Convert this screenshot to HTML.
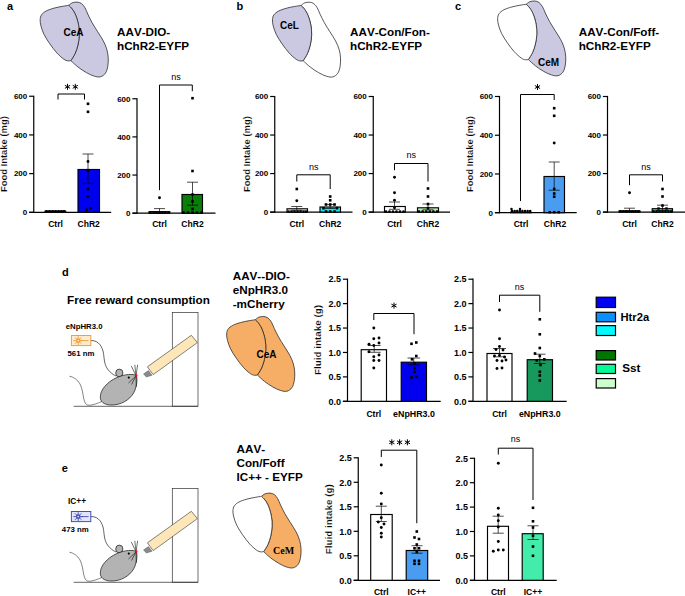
<!DOCTYPE html><html><head><meta charset="utf-8"><title>figure</title>
<style>html,body{margin:0;padding:0;background:#fff;}svg{display:block;font-family:"Liberation Sans",sans-serif;font-kerning:none;}text{font-kerning:none;}</style></head><body>
<svg width="685" height="596" viewBox="0 0 685 596">
<rect width="685" height="596" fill="#fff"/>
<text x="7" y="9.5" font-size="11" font-weight="bold" text-anchor="start" fill="#000" >a</text>
<text x="236.5" y="9.5" font-size="11" font-weight="bold" text-anchor="start" fill="#000" >b</text>
<text x="455" y="9.5" font-size="11" font-weight="bold" text-anchor="start" fill="#000" >c</text>
<text x="62" y="275.5" font-size="11" font-weight="bold" text-anchor="start" fill="#000" >d</text>
<text x="61.8" y="472" font-size="11" font-weight="bold" text-anchor="start" fill="#000" >e</text>
<g transform="translate(0 0)">
<path d="M68.76 5.36 C69.35 4.94 70.87 3.36 72.28 2.82 C73.69 2.28 75.69 1.99 77.22 2.11 C78.75 2.23 80.15 2.58 81.44 3.52 C82.73 4.46 83.91 5.99 84.97 7.75 C86.03 9.51 86.62 11.62 87.79 14.09 C88.97 16.56 90.38 19.61 92.02 22.55 C93.66 25.49 95.77 28.66 97.65 31.71 C99.53 34.76 101.76 37.93 103.29 40.87 C104.82 43.81 105.99 46.51 106.81 49.33 C107.63 52.15 108.06 54.97 108.22 57.79 C108.38 60.61 108.27 63.66 107.80 66.24 C107.33 68.82 106.62 71.53 105.40 73.29 C104.18 75.05 102.35 76.34 100.47 76.81 C98.59 77.28 96.48 76.81 94.13 76.11 C91.78 75.41 89.08 74.12 86.38 72.59 C83.68 71.06 80.50 68.95 77.92 66.95 C75.34 64.95 72.05 61.67 70.87 60.61 C71.58 59.44 73.92 56.15 75.10 53.56 C76.27 50.98 77.22 48.15 77.92 45.10 C78.62 42.05 79.21 38.53 79.33 35.24 C79.45 31.95 79.22 28.66 78.63 25.37 C78.04 22.08 76.87 18.20 75.81 15.50 C74.75 12.80 73.45 10.85 72.28 9.16 C71.11 7.47 69.35 5.99 68.76 5.36 Z" fill="#cbc8e2" stroke="#222" stroke-width="0.75" stroke-linejoin="round"/>
<path d="M68.76 5.36 C67.70 5.52 64.89 5.87 62.42 6.34 C59.95 6.81 56.66 7.39 53.96 8.17 C51.26 8.95 48.28 9.88 46.21 10.99 C44.14 12.10 42.57 13.34 41.56 14.80 C40.55 16.26 40.24 17.85 40.15 19.73 C40.05 21.61 40.33 23.60 40.99 26.07 C41.65 28.54 42.63 31.59 44.09 34.53 C45.55 37.47 47.61 40.64 49.73 43.69 C51.84 46.74 54.43 50.27 56.78 52.85 C59.13 55.44 61.95 57.86 63.83 59.20 C65.71 60.54 66.88 60.66 68.05 60.89 C69.22 61.12 70.40 60.66 70.87 60.61 C71.58 59.44 73.92 56.15 75.10 53.56 C76.27 50.98 77.22 48.15 77.92 45.10 C78.62 42.05 79.21 38.53 79.33 35.24 C79.45 31.95 79.22 28.66 78.63 25.37 C78.04 22.08 76.87 18.20 75.81 15.50 C74.75 12.80 73.45 10.85 72.28 9.16 C71.11 7.47 69.35 5.99 68.76 5.36 Z" fill="#cbc8e2" stroke="#222" stroke-width="0.75" stroke-linejoin="round"/>
</g>
<text x="63.5" y="36.3" font-size="10" font-weight="bold" text-anchor="start" fill="#000" >CeA</text>
<g transform="translate(232.3 0.1)">
<path d="M68.76 5.36 C69.35 4.94 70.87 3.36 72.28 2.82 C73.69 2.28 75.69 1.99 77.22 2.11 C78.75 2.23 80.15 2.58 81.44 3.52 C82.73 4.46 83.91 5.99 84.97 7.75 C86.03 9.51 86.62 11.62 87.79 14.09 C88.97 16.56 90.38 19.61 92.02 22.55 C93.66 25.49 95.77 28.66 97.65 31.71 C99.53 34.76 101.76 37.93 103.29 40.87 C104.82 43.81 105.99 46.51 106.81 49.33 C107.63 52.15 108.06 54.97 108.22 57.79 C108.38 60.61 108.27 63.66 107.80 66.24 C107.33 68.82 106.62 71.53 105.40 73.29 C104.18 75.05 102.35 76.34 100.47 76.81 C98.59 77.28 96.48 76.81 94.13 76.11 C91.78 75.41 89.08 74.12 86.38 72.59 C83.68 71.06 80.50 68.95 77.92 66.95 C75.34 64.95 72.05 61.67 70.87 60.61 C71.58 59.44 73.92 56.15 75.10 53.56 C76.27 50.98 77.22 48.15 77.92 45.10 C78.62 42.05 79.21 38.53 79.33 35.24 C79.45 31.95 79.22 28.66 78.63 25.37 C78.04 22.08 76.87 18.20 75.81 15.50 C74.75 12.80 73.45 10.85 72.28 9.16 C71.11 7.47 69.35 5.99 68.76 5.36 Z" fill="#fff" stroke="#222" stroke-width="0.75" stroke-linejoin="round"/>
<path d="M68.76 5.36 C67.70 5.52 64.89 5.87 62.42 6.34 C59.95 6.81 56.66 7.39 53.96 8.17 C51.26 8.95 48.28 9.88 46.21 10.99 C44.14 12.10 42.57 13.34 41.56 14.80 C40.55 16.26 40.24 17.85 40.15 19.73 C40.05 21.61 40.33 23.60 40.99 26.07 C41.65 28.54 42.63 31.59 44.09 34.53 C45.55 37.47 47.61 40.64 49.73 43.69 C51.84 46.74 54.43 50.27 56.78 52.85 C59.13 55.44 61.95 57.86 63.83 59.20 C65.71 60.54 66.88 60.66 68.05 60.89 C69.22 61.12 70.40 60.66 70.87 60.61 C71.58 59.44 73.92 56.15 75.10 53.56 C76.27 50.98 77.22 48.15 77.92 45.10 C78.62 42.05 79.21 38.53 79.33 35.24 C79.45 31.95 79.22 28.66 78.63 25.37 C78.04 22.08 76.87 18.20 75.81 15.50 C74.75 12.80 73.45 10.85 72.28 9.16 C71.11 7.47 69.35 5.99 68.76 5.36 Z" fill="#cbc8e2" stroke="#222" stroke-width="0.75" stroke-linejoin="round"/>
</g>
<text x="280" y="29.3" font-size="10" font-weight="bold" text-anchor="start" fill="#000" >CeL</text>
<g transform="translate(457.5 -1.1)">
<path d="M68.76 5.36 C69.35 4.94 70.87 3.36 72.28 2.82 C73.69 2.28 75.69 1.99 77.22 2.11 C78.75 2.23 80.15 2.58 81.44 3.52 C82.73 4.46 83.91 5.99 84.97 7.75 C86.03 9.51 86.62 11.62 87.79 14.09 C88.97 16.56 90.38 19.61 92.02 22.55 C93.66 25.49 95.77 28.66 97.65 31.71 C99.53 34.76 101.76 37.93 103.29 40.87 C104.82 43.81 105.99 46.51 106.81 49.33 C107.63 52.15 108.06 54.97 108.22 57.79 C108.38 60.61 108.27 63.66 107.80 66.24 C107.33 68.82 106.62 71.53 105.40 73.29 C104.18 75.05 102.35 76.34 100.47 76.81 C98.59 77.28 96.48 76.81 94.13 76.11 C91.78 75.41 89.08 74.12 86.38 72.59 C83.68 71.06 80.50 68.95 77.92 66.95 C75.34 64.95 72.05 61.67 70.87 60.61 C71.58 59.44 73.92 56.15 75.10 53.56 C76.27 50.98 77.22 48.15 77.92 45.10 C78.62 42.05 79.21 38.53 79.33 35.24 C79.45 31.95 79.22 28.66 78.63 25.37 C78.04 22.08 76.87 18.20 75.81 15.50 C74.75 12.80 73.45 10.85 72.28 9.16 C71.11 7.47 69.35 5.99 68.76 5.36 Z" fill="#cbc8e2" stroke="#222" stroke-width="0.75" stroke-linejoin="round"/>
<path d="M68.76 5.36 C67.70 5.52 64.89 5.87 62.42 6.34 C59.95 6.81 56.66 7.39 53.96 8.17 C51.26 8.95 48.28 9.88 46.21 10.99 C44.14 12.10 42.57 13.34 41.56 14.80 C40.55 16.26 40.24 17.85 40.15 19.73 C40.05 21.61 40.33 23.60 40.99 26.07 C41.65 28.54 42.63 31.59 44.09 34.53 C45.55 37.47 47.61 40.64 49.73 43.69 C51.84 46.74 54.43 50.27 56.78 52.85 C59.13 55.44 61.95 57.86 63.83 59.20 C65.71 60.54 66.88 60.66 68.05 60.89 C69.22 61.12 70.40 60.66 70.87 60.61 C71.58 59.44 73.92 56.15 75.10 53.56 C76.27 50.98 77.22 48.15 77.92 45.10 C78.62 42.05 79.21 38.53 79.33 35.24 C79.45 31.95 79.22 28.66 78.63 25.37 C78.04 22.08 76.87 18.20 75.81 15.50 C74.75 12.80 73.45 10.85 72.28 9.16 C71.11 7.47 69.35 5.99 68.76 5.36 Z" fill="#fff" stroke="#222" stroke-width="0.75" stroke-linejoin="round"/>
</g>
<text x="538" y="65.5" font-size="10" font-weight="bold" text-anchor="start" fill="#000" >CeM</text>
<g transform="translate(186.5 314.4)">
<path d="M68.76 5.36 C69.35 4.94 70.87 3.36 72.28 2.82 C73.69 2.28 75.69 1.99 77.22 2.11 C78.75 2.23 80.15 2.58 81.44 3.52 C82.73 4.46 83.91 5.99 84.97 7.75 C86.03 9.51 86.62 11.62 87.79 14.09 C88.97 16.56 90.38 19.61 92.02 22.55 C93.66 25.49 95.77 28.66 97.65 31.71 C99.53 34.76 101.76 37.93 103.29 40.87 C104.82 43.81 105.99 46.51 106.81 49.33 C107.63 52.15 108.06 54.97 108.22 57.79 C108.38 60.61 108.27 63.66 107.80 66.24 C107.33 68.82 106.62 71.53 105.40 73.29 C104.18 75.05 102.35 76.34 100.47 76.81 C98.59 77.28 96.48 76.81 94.13 76.11 C91.78 75.41 89.08 74.12 86.38 72.59 C83.68 71.06 80.50 68.95 77.92 66.95 C75.34 64.95 72.05 61.67 70.87 60.61 C71.58 59.44 73.92 56.15 75.10 53.56 C76.27 50.98 77.22 48.15 77.92 45.10 C78.62 42.05 79.21 38.53 79.33 35.24 C79.45 31.95 79.22 28.66 78.63 25.37 C78.04 22.08 76.87 18.20 75.81 15.50 C74.75 12.80 73.45 10.85 72.28 9.16 C71.11 7.47 69.35 5.99 68.76 5.36 Z" fill="#f6ae66" stroke="#222" stroke-width="0.75" stroke-linejoin="round"/>
<path d="M68.76 5.36 C67.70 5.52 64.89 5.87 62.42 6.34 C59.95 6.81 56.66 7.39 53.96 8.17 C51.26 8.95 48.28 9.88 46.21 10.99 C44.14 12.10 42.57 13.34 41.56 14.80 C40.55 16.26 40.24 17.85 40.15 19.73 C40.05 21.61 40.33 23.60 40.99 26.07 C41.65 28.54 42.63 31.59 44.09 34.53 C45.55 37.47 47.61 40.64 49.73 43.69 C51.84 46.74 54.43 50.27 56.78 52.85 C59.13 55.44 61.95 57.86 63.83 59.20 C65.71 60.54 66.88 60.66 68.05 60.89 C69.22 61.12 70.40 60.66 70.87 60.61 C71.58 59.44 73.92 56.15 75.10 53.56 C76.27 50.98 77.22 48.15 77.92 45.10 C78.62 42.05 79.21 38.53 79.33 35.24 C79.45 31.95 79.22 28.66 78.63 25.37 C78.04 22.08 76.87 18.20 75.81 15.50 C74.75 12.80 73.45 10.85 72.28 9.16 C71.11 7.47 69.35 5.99 68.76 5.36 Z" fill="#f6ae66" stroke="#222" stroke-width="0.75" stroke-linejoin="round"/>
</g>
<text x="256.5" y="358" font-size="10" font-weight="bold" text-anchor="start" fill="#000" >CeA</text>
<g transform="translate(192.8 491.0)">
<path d="M68.76 5.36 C69.35 4.94 70.87 3.36 72.28 2.82 C73.69 2.28 75.69 1.99 77.22 2.11 C78.75 2.23 80.15 2.58 81.44 3.52 C82.73 4.46 83.91 5.99 84.97 7.75 C86.03 9.51 86.62 11.62 87.79 14.09 C88.97 16.56 90.38 19.61 92.02 22.55 C93.66 25.49 95.77 28.66 97.65 31.71 C99.53 34.76 101.76 37.93 103.29 40.87 C104.82 43.81 105.99 46.51 106.81 49.33 C107.63 52.15 108.06 54.97 108.22 57.79 C108.38 60.61 108.27 63.66 107.80 66.24 C107.33 68.82 106.62 71.53 105.40 73.29 C104.18 75.05 102.35 76.34 100.47 76.81 C98.59 77.28 96.48 76.81 94.13 76.11 C91.78 75.41 89.08 74.12 86.38 72.59 C83.68 71.06 80.50 68.95 77.92 66.95 C75.34 64.95 72.05 61.67 70.87 60.61 C71.58 59.44 73.92 56.15 75.10 53.56 C76.27 50.98 77.22 48.15 77.92 45.10 C78.62 42.05 79.21 38.53 79.33 35.24 C79.45 31.95 79.22 28.66 78.63 25.37 C78.04 22.08 76.87 18.20 75.81 15.50 C74.75 12.80 73.45 10.85 72.28 9.16 C71.11 7.47 69.35 5.99 68.76 5.36 Z" fill="#f6ae66" stroke="#222" stroke-width="0.75" stroke-linejoin="round"/>
<path d="M68.76 5.36 C67.70 5.52 64.89 5.87 62.42 6.34 C59.95 6.81 56.66 7.39 53.96 8.17 C51.26 8.95 48.28 9.88 46.21 10.99 C44.14 12.10 42.57 13.34 41.56 14.80 C40.55 16.26 40.24 17.85 40.15 19.73 C40.05 21.61 40.33 23.60 40.99 26.07 C41.65 28.54 42.63 31.59 44.09 34.53 C45.55 37.47 47.61 40.64 49.73 43.69 C51.84 46.74 54.43 50.27 56.78 52.85 C59.13 55.44 61.95 57.86 63.83 59.20 C65.71 60.54 66.88 60.66 68.05 60.89 C69.22 61.12 70.40 60.66 70.87 60.61 C71.58 59.44 73.92 56.15 75.10 53.56 C76.27 50.98 77.22 48.15 77.92 45.10 C78.62 42.05 79.21 38.53 79.33 35.24 C79.45 31.95 79.22 28.66 78.63 25.37 C78.04 22.08 76.87 18.20 75.81 15.50 C74.75 12.80 73.45 10.85 72.28 9.16 C71.11 7.47 69.35 5.99 68.76 5.36 Z" fill="#fff" stroke="#222" stroke-width="0.75" stroke-linejoin="round"/>
</g>
<text x="273" y="554" font-size="10" font-weight="bold" text-anchor="start" fill="#000" font-family='"Liberation Serif", serif' >CeM</text>
<text x="117" y="36.3" font-size="11.7" font-weight="bold" text-anchor="start" fill="#000" >AAV-DIO-</text>
<text x="117" y="49.9" font-size="11.7" font-weight="bold" text-anchor="start" fill="#000" >hChR2-EYFP</text>
<text x="350" y="36.3" font-size="11.7" font-weight="bold" text-anchor="start" fill="#000" >AAV-Con/Fon-</text>
<text x="350" y="49.9" font-size="11.7" font-weight="bold" text-anchor="start" fill="#000" >hChR2-EYFP</text>
<text x="578.7" y="36.3" font-size="11.7" font-weight="bold" text-anchor="start" fill="#000" >AAV-Con/Foff-</text>
<text x="578.7" y="49.9" font-size="11.7" font-weight="bold" text-anchor="start" fill="#000" >hChR2-EYFP</text>
<text x="232.7" y="279.5" font-size="11.7" font-weight="bold" text-anchor="start" fill="#000" >AAV--DIO-</text>
<text x="232.7" y="293.5" font-size="11.7" font-weight="bold" text-anchor="start" fill="#000" >eNpHR3.0</text>
<text x="232.7" y="307.5" font-size="11.7" font-weight="bold" text-anchor="start" fill="#000" >-mCherry</text>
<text x="236.5" y="452.5" font-size="11.7" font-weight="bold" text-anchor="start" fill="#000" >AAV-</text>
<text x="236.5" y="466.5" font-size="11.7" font-weight="bold" text-anchor="start" fill="#000" >Con/Foff</text>
<text x="236.5" y="480.7" font-size="11.7" font-weight="bold" text-anchor="start" fill="#000" >IC++ - EYFP</text>
<text x="67" y="304.3" font-size="11.7" font-weight="bold" text-anchor="start" fill="#000" >Free reward consumption</text>
<line x1="33.75" y1="95.65000000000002" x2="33.75" y2="212.9" stroke="#000" stroke-width="1.2" stroke-linecap="butt"/>
<line x1="29.15" y1="212.3" x2="111.2" y2="212.3" stroke="#000" stroke-width="1.2" stroke-linecap="butt"/>
<line x1="29.15" y1="212.3" x2="33.75" y2="212.3" stroke="#000" stroke-width="1.2" stroke-linecap="butt"/>
<text x="27.25" y="215.18" font-size="8.0" font-weight="bold" text-anchor="end" fill="#000" >0</text>
<line x1="29.15" y1="173.61666666666667" x2="33.75" y2="173.61666666666667" stroke="#000" stroke-width="1.2" stroke-linecap="butt"/>
<text x="27.25" y="176.49666666666667" font-size="8.0" font-weight="bold" text-anchor="end" fill="#000" >200</text>
<line x1="29.15" y1="134.93333333333334" x2="33.75" y2="134.93333333333334" stroke="#000" stroke-width="1.2" stroke-linecap="butt"/>
<text x="27.25" y="137.81333333333333" font-size="8.0" font-weight="bold" text-anchor="end" fill="#000" >400</text>
<line x1="29.15" y1="96.25000000000001" x2="33.75" y2="96.25000000000001" stroke="#000" stroke-width="1.2" stroke-linecap="butt"/>
<text x="27.25" y="99.13000000000001" font-size="8.0" font-weight="bold" text-anchor="end" fill="#000" >600</text>
<rect x="45.00" y="211.30" width="20.70" height="1.00" fill="#fff" stroke="#000" stroke-width="1.15"/>
<rect x="78.00" y="169.50" width="21.50" height="42.80" fill="#0000ee" stroke="#000" stroke-width="1.15"/>
<line x1="88" y1="154" x2="88" y2="183.2" stroke="#000" stroke-width="0.7" stroke-linecap="butt"/>
<line x1="82.5" y1="154" x2="93.5" y2="154" stroke="#000" stroke-width="0.7" stroke-linecap="butt"/>
<line x1="82.5" y1="183.2" x2="93.5" y2="183.2" stroke="#000" stroke-width="0.7" stroke-linecap="butt"/>
<rect x="45.25" y="210.05" width="2.5" height="2.5" fill="#000"/>
<rect x="48.25" y="210.05" width="2.5" height="2.5" fill="#000"/>
<rect x="51.25" y="210.05" width="2.5" height="2.5" fill="#000"/>
<rect x="54.25" y="210.05" width="2.5" height="2.5" fill="#000"/>
<rect x="57.25" y="210.05" width="2.5" height="2.5" fill="#000"/>
<rect x="60.25" y="210.05" width="2.5" height="2.5" fill="#000"/>
<rect x="62.95" y="210.05" width="2.5" height="2.5" fill="#000"/>
<circle cx="88" cy="161.5" r="1.45" fill="#000"/>
<rect x="86.70" y="168.90" width="2.6" height="2.6" fill="#000"/>
<rect x="86.70" y="187.70" width="2.6" height="2.6" fill="#000"/>
<rect x="86.70" y="195.20" width="2.6" height="2.6" fill="#000"/>
<rect x="84.90" y="208.50" width="2.6" height="2.6" fill="#000"/>
<rect x="89.20" y="206.90" width="2.6" height="2.6" fill="#000"/>
<rect x="86.70" y="102.50" width="2.6" height="2.6" fill="#000"/>
<rect x="86.70" y="110.50" width="2.6" height="2.6" fill="#000"/>
<path d="M58 99.5 V94 H84.5 V99.5" fill="none" stroke="#000" stroke-width="1"/>
<line x1="67.50" y1="83.80" x2="67.50" y2="89.80" stroke="#000" stroke-width="1.0"/>
<line x1="64.90" y1="85.30" x2="70.10" y2="88.30" stroke="#000" stroke-width="1.0"/>
<line x1="70.10" y1="85.30" x2="64.90" y2="88.30" stroke="#000" stroke-width="1.0"/>
<line x1="75.30" y1="83.80" x2="75.30" y2="89.80" stroke="#000" stroke-width="1.0"/>
<line x1="72.70" y1="85.30" x2="77.90" y2="88.30" stroke="#000" stroke-width="1.0"/>
<line x1="77.90" y1="85.30" x2="72.70" y2="88.30" stroke="#000" stroke-width="1.0"/>
<text x="55.5" y="227" font-size="8.55" font-weight="bold" text-anchor="middle" fill="#000" >Ctrl</text>
<text x="88.7" y="227" font-size="8.55" font-weight="bold" text-anchor="middle" fill="#000" >ChR2</text>
<text transform="translate(7.2 154.1) rotate(-90)" font-size="9.45" font-weight="bold" text-anchor="middle" fill="#000" stroke="#fff" stroke-width="0.16">Food Intake (mg)</text>
<line x1="137" y1="98.14999999999999" x2="137" y2="213.79999999999998" stroke="#000" stroke-width="1.2" stroke-linecap="butt"/>
<line x1="132.4" y1="213.2" x2="215.5" y2="213.2" stroke="#000" stroke-width="1.2" stroke-linecap="butt"/>
<line x1="132.4" y1="213.2" x2="137" y2="213.2" stroke="#000" stroke-width="1.2" stroke-linecap="butt"/>
<text x="130.5" y="216.07999999999998" font-size="8.0" font-weight="bold" text-anchor="end" fill="#000" >0</text>
<line x1="132.4" y1="175.05" x2="137" y2="175.05" stroke="#000" stroke-width="1.2" stroke-linecap="butt"/>
<text x="130.5" y="177.93" font-size="8.0" font-weight="bold" text-anchor="end" fill="#000" >200</text>
<line x1="132.4" y1="136.9" x2="137" y2="136.9" stroke="#000" stroke-width="1.2" stroke-linecap="butt"/>
<text x="130.5" y="139.78" font-size="8.0" font-weight="bold" text-anchor="end" fill="#000" >400</text>
<line x1="132.4" y1="98.74999999999999" x2="137" y2="98.74999999999999" stroke="#000" stroke-width="1.2" stroke-linecap="butt"/>
<text x="130.5" y="101.62999999999998" font-size="8.0" font-weight="bold" text-anchor="end" fill="#000" >600</text>
<rect x="149.00" y="211.70" width="20.80" height="1.50" fill="#fff" stroke="#000" stroke-width="1.15"/>
<line x1="159.5" y1="208.6" x2="159.5" y2="213.0" stroke="#000" stroke-width="0.7" stroke-linecap="butt"/>
<line x1="154.0" y1="208.6" x2="165.0" y2="208.6" stroke="#000" stroke-width="0.7" stroke-linecap="butt"/>
<line x1="154.0" y1="213.0" x2="165.0" y2="213.0" stroke="#000" stroke-width="0.7" stroke-linecap="butt"/>
<rect x="182.00" y="194.50" width="20.50" height="18.70" fill="#0a7d0a" stroke="#000" stroke-width="1.15"/>
<line x1="192.5" y1="182.2" x2="192.5" y2="205.2" stroke="#000" stroke-width="0.7" stroke-linecap="butt"/>
<line x1="187.0" y1="182.2" x2="198.0" y2="182.2" stroke="#000" stroke-width="0.7" stroke-linecap="butt"/>
<line x1="187.0" y1="205.2" x2="198.0" y2="205.2" stroke="#000" stroke-width="0.7" stroke-linecap="butt"/>
<rect x="149.25" y="211.15" width="2.5" height="2.5" fill="#000"/>
<rect x="152.25" y="211.15" width="2.5" height="2.5" fill="#000"/>
<rect x="155.25" y="211.15" width="2.5" height="2.5" fill="#000"/>
<rect x="158.25" y="211.15" width="2.5" height="2.5" fill="#000"/>
<rect x="161.25" y="211.15" width="2.5" height="2.5" fill="#000"/>
<rect x="164.25" y="211.15" width="2.5" height="2.5" fill="#000"/>
<rect x="167.25" y="211.15" width="2.5" height="2.5" fill="#000"/>
<circle cx="159.5" cy="197.8" r="1.45" fill="#000"/>
<rect x="191.20" y="96.90" width="2.6" height="2.6" fill="#000"/>
<rect x="191.20" y="169.70" width="2.6" height="2.6" fill="#000"/>
<circle cx="192.5" cy="194.5" r="1.45" fill="#000"/>
<rect x="191.20" y="200.20" width="2.6" height="2.6" fill="#000"/>
<rect x="191.20" y="207.70" width="2.6" height="2.6" fill="#000"/>
<rect x="182.25" y="211.35" width="2.5" height="2.5" fill="#000"/>
<rect x="186.75" y="211.35" width="2.5" height="2.5" fill="#000"/>
<rect x="191.25" y="211.35" width="2.5" height="2.5" fill="#000"/>
<rect x="195.75" y="211.35" width="2.5" height="2.5" fill="#000"/>
<rect x="200.25" y="211.35" width="2.5" height="2.5" fill="#000"/>
<path d="M159.5 190.2 V85 H192.3 V91.2" fill="none" stroke="#000" stroke-width="1"/>
<text x="176" y="79.5" font-size="9" font-weight="normal" text-anchor="middle" fill="#000" >ns</text>
<text x="159.5" y="227" font-size="8.55" font-weight="bold" text-anchor="middle" fill="#000" >Ctrl</text>
<text x="192.5" y="227" font-size="8.55" font-weight="bold" text-anchor="middle" fill="#000" >ChR2</text>
<line x1="274.75" y1="95.9" x2="274.75" y2="212.7" stroke="#000" stroke-width="1.2" stroke-linecap="butt"/>
<line x1="270.15" y1="212.1" x2="352.5" y2="212.1" stroke="#000" stroke-width="1.2" stroke-linecap="butt"/>
<line x1="270.15" y1="212.1" x2="274.75" y2="212.1" stroke="#000" stroke-width="1.2" stroke-linecap="butt"/>
<text x="268.25" y="214.98" font-size="8.0" font-weight="bold" text-anchor="end" fill="#000" >0</text>
<line x1="270.15" y1="173.56666666666666" x2="274.75" y2="173.56666666666666" stroke="#000" stroke-width="1.2" stroke-linecap="butt"/>
<text x="268.25" y="176.44666666666666" font-size="8.0" font-weight="bold" text-anchor="end" fill="#000" >200</text>
<line x1="270.15" y1="135.03333333333333" x2="274.75" y2="135.03333333333333" stroke="#000" stroke-width="1.2" stroke-linecap="butt"/>
<text x="268.25" y="137.91333333333333" font-size="8.0" font-weight="bold" text-anchor="end" fill="#000" >400</text>
<line x1="270.15" y1="96.5" x2="274.75" y2="96.5" stroke="#000" stroke-width="1.2" stroke-linecap="butt"/>
<text x="268.25" y="99.38" font-size="8.0" font-weight="bold" text-anchor="end" fill="#000" >600</text>
<rect x="287.00" y="208.80" width="20.50" height="3.30" fill="#fff" stroke="#000" stroke-width="1.15"/>
<line x1="296.8" y1="206.5" x2="296.8" y2="210.3" stroke="#000" stroke-width="0.7" stroke-linecap="butt"/>
<line x1="291.3" y1="206.5" x2="302.3" y2="206.5" stroke="#000" stroke-width="0.7" stroke-linecap="butt"/>
<line x1="291.3" y1="210.3" x2="302.3" y2="210.3" stroke="#000" stroke-width="0.7" stroke-linecap="butt"/>
<rect x="320.00" y="207.00" width="20.50" height="5.10" fill="#19e6f0" stroke="#000" stroke-width="1.15"/>
<line x1="330.2" y1="204.5" x2="330.2" y2="208.5" stroke="#000" stroke-width="0.7" stroke-linecap="butt"/>
<line x1="324.7" y1="204.5" x2="335.7" y2="204.5" stroke="#000" stroke-width="0.7" stroke-linecap="butt"/>
<line x1="324.7" y1="208.5" x2="335.7" y2="208.5" stroke="#000" stroke-width="0.7" stroke-linecap="butt"/>
<rect x="295.50" y="187.70" width="2.6" height="2.6" fill="#000"/>
<circle cx="296.8" cy="200.8" r="1.45" fill="#000"/>
<rect x="287.30" y="210.30" width="2.4" height="2.4" fill="#000"/>
<rect x="290.30" y="210.30" width="2.4" height="2.4" fill="#000"/>
<rect x="293.30" y="210.30" width="2.4" height="2.4" fill="#000"/>
<rect x="296.30" y="210.30" width="2.4" height="2.4" fill="#000"/>
<rect x="299.30" y="210.30" width="2.4" height="2.4" fill="#000"/>
<rect x="302.30" y="210.30" width="2.4" height="2.4" fill="#000"/>
<rect x="304.80" y="210.30" width="2.4" height="2.4" fill="#000"/>
<rect x="328.90" y="195.20" width="2.6" height="2.6" fill="#000"/>
<rect x="328.90" y="199.00" width="2.6" height="2.6" fill="#000"/>
<rect x="324.70" y="203.20" width="2.6" height="2.6" fill="#000"/>
<rect x="328.90" y="203.20" width="2.6" height="2.6" fill="#000"/>
<rect x="333.20" y="203.20" width="2.6" height="2.6" fill="#000"/>
<rect x="322.20" y="206.90" width="2.6" height="2.6" fill="#000"/>
<rect x="335.70" y="206.90" width="2.6" height="2.6" fill="#000"/>
<rect x="324.70" y="210.20" width="2.6" height="2.6" fill="#000"/>
<rect x="328.90" y="210.20" width="2.6" height="2.6" fill="#000"/>
<rect x="333.20" y="210.20" width="2.6" height="2.6" fill="#000"/>
<path d="M296.8 181.5 V174.8 H330.2 V189" fill="none" stroke="#000" stroke-width="1"/>
<text x="313.8" y="169.5" font-size="9" font-weight="normal" text-anchor="middle" fill="#000" >ns</text>
<text x="296.8" y="226.7" font-size="8.55" font-weight="bold" text-anchor="middle" fill="#000" >Ctrl</text>
<text x="330.2" y="226.7" font-size="8.55" font-weight="bold" text-anchor="middle" fill="#000" >ChR2</text>
<text transform="translate(249.6 154.1) rotate(-90)" font-size="9.45" font-weight="bold" text-anchor="middle" fill="#000" stroke="#fff" stroke-width="0.16">Food Intake (mg)</text>
<line x1="373.25" y1="95.9" x2="373.25" y2="212.7" stroke="#000" stroke-width="1.2" stroke-linecap="butt"/>
<line x1="368.65" y1="212.1" x2="450" y2="212.1" stroke="#000" stroke-width="1.2" stroke-linecap="butt"/>
<line x1="368.65" y1="212.1" x2="373.25" y2="212.1" stroke="#000" stroke-width="1.2" stroke-linecap="butt"/>
<text x="366.75" y="214.98" font-size="8.0" font-weight="bold" text-anchor="end" fill="#000" >0</text>
<line x1="368.65" y1="173.56666666666666" x2="373.25" y2="173.56666666666666" stroke="#000" stroke-width="1.2" stroke-linecap="butt"/>
<text x="366.75" y="176.44666666666666" font-size="8.0" font-weight="bold" text-anchor="end" fill="#000" >200</text>
<line x1="368.65" y1="135.03333333333333" x2="373.25" y2="135.03333333333333" stroke="#000" stroke-width="1.2" stroke-linecap="butt"/>
<text x="366.75" y="137.91333333333333" font-size="8.0" font-weight="bold" text-anchor="end" fill="#000" >400</text>
<line x1="368.65" y1="96.5" x2="373.25" y2="96.5" stroke="#000" stroke-width="1.2" stroke-linecap="butt"/>
<text x="366.75" y="99.38" font-size="8.0" font-weight="bold" text-anchor="end" fill="#000" >600</text>
<rect x="384.50" y="206.50" width="20.80" height="5.60" fill="#fff" stroke="#000" stroke-width="1.15"/>
<line x1="394.5" y1="202" x2="394.5" y2="209.3" stroke="#000" stroke-width="0.7" stroke-linecap="butt"/>
<line x1="389.0" y1="202" x2="400.0" y2="202" stroke="#000" stroke-width="0.7" stroke-linecap="butt"/>
<line x1="389.0" y1="209.3" x2="400.0" y2="209.3" stroke="#000" stroke-width="0.7" stroke-linecap="butt"/>
<rect x="417.50" y="207.80" width="21.00" height="4.30" fill="#bdf5bd" stroke="#000" stroke-width="1.15"/>
<line x1="428" y1="204" x2="428" y2="209.8" stroke="#000" stroke-width="0.7" stroke-linecap="butt"/>
<line x1="422.5" y1="204" x2="433.5" y2="204" stroke="#000" stroke-width="0.7" stroke-linecap="butt"/>
<line x1="422.5" y1="209.8" x2="433.5" y2="209.8" stroke="#000" stroke-width="0.7" stroke-linecap="butt"/>
<circle cx="394.5" cy="177.3" r="1.45" fill="#000"/>
<circle cx="394.5" cy="192.8" r="1.45" fill="#000"/>
<circle cx="394.5" cy="200.3" r="1.45" fill="#000"/>
<circle cx="394.5" cy="207.8" r="1.45" fill="#000"/>
<circle cx="386" cy="211.6" r="1.3" fill="#000"/>
<circle cx="389.5" cy="211.6" r="1.3" fill="#000"/>
<circle cx="393" cy="211.6" r="1.3" fill="#000"/>
<circle cx="396.5" cy="211.6" r="1.3" fill="#000"/>
<circle cx="400" cy="211.6" r="1.3" fill="#000"/>
<circle cx="403.5" cy="211.6" r="1.3" fill="#000"/>
<rect x="426.70" y="187.20" width="2.6" height="2.6" fill="#000"/>
<rect x="426.70" y="195.20" width="2.6" height="2.6" fill="#000"/>
<rect x="426.70" y="202.70" width="2.6" height="2.6" fill="#000"/>
<rect x="426.70" y="206.90" width="2.6" height="2.6" fill="#000"/>
<rect x="417.80" y="210.30" width="2.4" height="2.4" fill="#000"/>
<rect x="421.40" y="210.30" width="2.4" height="2.4" fill="#000"/>
<rect x="425.00" y="210.30" width="2.4" height="2.4" fill="#000"/>
<rect x="428.60" y="210.30" width="2.4" height="2.4" fill="#000"/>
<rect x="432.20" y="210.30" width="2.4" height="2.4" fill="#000"/>
<rect x="435.80" y="210.30" width="2.4" height="2.4" fill="#000"/>
<path d="M394.5 170.2 V163.5 H428 V181.5" fill="none" stroke="#000" stroke-width="1"/>
<text x="411.2" y="157.8" font-size="9" font-weight="normal" text-anchor="middle" fill="#000" >ns</text>
<text x="394.5" y="226.7" font-size="8.55" font-weight="bold" text-anchor="middle" fill="#000" >Ctrl</text>
<text x="428" y="226.7" font-size="8.55" font-weight="bold" text-anchor="middle" fill="#000" >ChR2</text>
<line x1="499.5" y1="95.89999999999999" x2="499.5" y2="213.29999999999998" stroke="#000" stroke-width="1.2" stroke-linecap="butt"/>
<line x1="494.9" y1="212.7" x2="576.7" y2="212.7" stroke="#000" stroke-width="1.2" stroke-linecap="butt"/>
<line x1="494.9" y1="212.7" x2="499.5" y2="212.7" stroke="#000" stroke-width="1.2" stroke-linecap="butt"/>
<text x="493.0" y="215.57999999999998" font-size="8.0" font-weight="bold" text-anchor="end" fill="#000" >0</text>
<line x1="494.9" y1="173.96666666666667" x2="499.5" y2="173.96666666666667" stroke="#000" stroke-width="1.2" stroke-linecap="butt"/>
<text x="493.0" y="176.84666666666666" font-size="8.0" font-weight="bold" text-anchor="end" fill="#000" >200</text>
<line x1="494.9" y1="135.23333333333335" x2="499.5" y2="135.23333333333335" stroke="#000" stroke-width="1.2" stroke-linecap="butt"/>
<text x="493.0" y="138.11333333333334" font-size="8.0" font-weight="bold" text-anchor="end" fill="#000" >400</text>
<line x1="494.9" y1="96.49999999999999" x2="499.5" y2="96.49999999999999" stroke="#000" stroke-width="1.2" stroke-linecap="butt"/>
<text x="493.0" y="99.37999999999998" font-size="8.0" font-weight="bold" text-anchor="end" fill="#000" >600</text>
<rect x="510.50" y="212.10" width="20.50" height="0.60" fill="#fff" stroke="#000" stroke-width="1.15"/>
<rect x="544.00" y="176.50" width="20.50" height="36.20" fill="#4a9cf0" stroke="#000" stroke-width="1.15"/>
<line x1="554.2" y1="162" x2="554.2" y2="190.2" stroke="#000" stroke-width="0.7" stroke-linecap="butt"/>
<line x1="548.7" y1="162" x2="559.7" y2="162" stroke="#000" stroke-width="0.7" stroke-linecap="butt"/>
<line x1="548.7" y1="190.2" x2="559.7" y2="190.2" stroke="#000" stroke-width="0.7" stroke-linecap="butt"/>
<circle cx="512" cy="210.9" r="1.25" fill="#000"/>
<circle cx="514.6" cy="210.9" r="1.25" fill="#000"/>
<circle cx="517.2" cy="210.9" r="1.25" fill="#000"/>
<circle cx="519.8" cy="210.9" r="1.25" fill="#000"/>
<circle cx="522.4" cy="210.9" r="1.25" fill="#000"/>
<circle cx="525" cy="210.9" r="1.25" fill="#000"/>
<circle cx="527.6" cy="210.9" r="1.25" fill="#000"/>
<circle cx="530.2" cy="210.9" r="1.25" fill="#000"/>
<circle cx="511.5" cy="208.9" r="1.25" fill="#000"/>
<circle cx="520" cy="208.9" r="1.25" fill="#000"/>
<rect x="552.90" y="106.90" width="2.6" height="2.6" fill="#000"/>
<rect x="552.90" y="114.50" width="2.6" height="2.6" fill="#000"/>
<circle cx="554.2" cy="143" r="1.45" fill="#000"/>
<circle cx="554.2" cy="189" r="1.45" fill="#000"/>
<rect x="552.90" y="192.20" width="2.6" height="2.6" fill="#000"/>
<rect x="552.90" y="195.40" width="2.6" height="2.6" fill="#000"/>
<rect x="548.45" y="210.95" width="2.5" height="2.5" fill="#000"/>
<rect x="552.95" y="210.95" width="2.5" height="2.5" fill="#000"/>
<rect x="557.45" y="210.95" width="2.5" height="2.5" fill="#000"/>
<path d="M520.5 201 V94.5 H554.2 V100" fill="none" stroke="#000" stroke-width="1"/>
<line x1="537.50" y1="84.00" x2="537.50" y2="90.00" stroke="#000" stroke-width="1.0"/>
<line x1="534.90" y1="85.50" x2="540.10" y2="88.50" stroke="#000" stroke-width="1.0"/>
<line x1="540.10" y1="85.50" x2="534.90" y2="88.50" stroke="#000" stroke-width="1.0"/>
<text x="521" y="226.7" font-size="8.55" font-weight="bold" text-anchor="middle" fill="#000" >Ctrl</text>
<text x="555" y="226.7" font-size="8.55" font-weight="bold" text-anchor="middle" fill="#000" >ChR2</text>
<text transform="translate(472.5 154.1) rotate(-90)" font-size="9.45" font-weight="bold" text-anchor="middle" fill="#000" stroke="#fff" stroke-width="0.16">Food Intake (mg)</text>
<line x1="607.5" y1="95.9" x2="607.5" y2="212.7" stroke="#000" stroke-width="1.2" stroke-linecap="butt"/>
<line x1="602.9" y1="212.1" x2="685" y2="212.1" stroke="#000" stroke-width="1.2" stroke-linecap="butt"/>
<line x1="602.9" y1="212.1" x2="607.5" y2="212.1" stroke="#000" stroke-width="1.2" stroke-linecap="butt"/>
<text x="601.0" y="214.98" font-size="8.0" font-weight="bold" text-anchor="end" fill="#000" >0</text>
<line x1="602.9" y1="173.56666666666666" x2="607.5" y2="173.56666666666666" stroke="#000" stroke-width="1.2" stroke-linecap="butt"/>
<text x="601.0" y="176.44666666666666" font-size="8.0" font-weight="bold" text-anchor="end" fill="#000" >200</text>
<line x1="602.9" y1="135.03333333333333" x2="607.5" y2="135.03333333333333" stroke="#000" stroke-width="1.2" stroke-linecap="butt"/>
<text x="601.0" y="137.91333333333333" font-size="8.0" font-weight="bold" text-anchor="end" fill="#000" >400</text>
<line x1="602.9" y1="96.5" x2="607.5" y2="96.5" stroke="#000" stroke-width="1.2" stroke-linecap="butt"/>
<text x="601.0" y="99.38" font-size="8.0" font-weight="bold" text-anchor="end" fill="#000" >600</text>
<rect x="619.00" y="210.90" width="21.00" height="1.20" fill="#fff" stroke="#000" stroke-width="1.15"/>
<line x1="629.5" y1="208.2" x2="629.5" y2="211.3" stroke="#000" stroke-width="0.7" stroke-linecap="butt"/>
<line x1="624.0" y1="208.2" x2="635.0" y2="208.2" stroke="#000" stroke-width="0.7" stroke-linecap="butt"/>
<line x1="624.0" y1="211.3" x2="635.0" y2="211.3" stroke="#000" stroke-width="0.7" stroke-linecap="butt"/>
<rect x="652.20" y="208.70" width="20.30" height="3.40" fill="#43ecab" stroke="#000" stroke-width="1.15"/>
<line x1="662.5" y1="205.2" x2="662.5" y2="210.5" stroke="#000" stroke-width="0.7" stroke-linecap="butt"/>
<line x1="657.0" y1="205.2" x2="668.0" y2="205.2" stroke="#000" stroke-width="0.7" stroke-linecap="butt"/>
<line x1="657.0" y1="210.5" x2="668.0" y2="210.5" stroke="#000" stroke-width="0.7" stroke-linecap="butt"/>
<circle cx="629.5" cy="192.8" r="1.45" fill="#000"/>
<rect x="619.30" y="210.10" width="2.4" height="2.4" fill="#000"/>
<rect x="622.30" y="210.10" width="2.4" height="2.4" fill="#000"/>
<rect x="625.30" y="210.10" width="2.4" height="2.4" fill="#000"/>
<rect x="628.30" y="210.10" width="2.4" height="2.4" fill="#000"/>
<rect x="631.30" y="210.10" width="2.4" height="2.4" fill="#000"/>
<rect x="634.30" y="210.10" width="2.4" height="2.4" fill="#000"/>
<rect x="637.30" y="210.10" width="2.4" height="2.4" fill="#000"/>
<rect x="661.20" y="187.70" width="2.6" height="2.6" fill="#000"/>
<rect x="661.20" y="195.20" width="2.6" height="2.6" fill="#000"/>
<rect x="661.20" y="204.20" width="2.6" height="2.6" fill="#000"/>
<rect x="657.30" y="207.30" width="2.4" height="2.4" fill="#000"/>
<rect x="665.30" y="207.30" width="2.4" height="2.4" fill="#000"/>
<rect x="652.30" y="210.10" width="2.4" height="2.4" fill="#000"/>
<rect x="655.30" y="210.10" width="2.4" height="2.4" fill="#000"/>
<rect x="658.30" y="210.10" width="2.4" height="2.4" fill="#000"/>
<rect x="661.30" y="210.10" width="2.4" height="2.4" fill="#000"/>
<rect x="664.30" y="210.10" width="2.4" height="2.4" fill="#000"/>
<rect x="667.30" y="210.10" width="2.4" height="2.4" fill="#000"/>
<rect x="670.10" y="210.10" width="2.4" height="2.4" fill="#000"/>
<path d="M629.5 185.2 V174.8 H662.5 V181.5" fill="none" stroke="#000" stroke-width="1"/>
<text x="646" y="169.5" font-size="9" font-weight="normal" text-anchor="middle" fill="#000" >ns</text>
<text x="629.5" y="226.7" font-size="8.55" font-weight="bold" text-anchor="middle" fill="#000" >Ctrl</text>
<text x="662.5" y="226.7" font-size="8.55" font-weight="bold" text-anchor="middle" fill="#000" >ChR2</text>
<line x1="347.5" y1="278.59999999999997" x2="347.5" y2="401.90000000000003" stroke="#000" stroke-width="1.2" stroke-linecap="butt"/>
<line x1="342.9" y1="401.3" x2="440.7" y2="401.3" stroke="#000" stroke-width="1.2" stroke-linecap="butt"/>
<line x1="342.9" y1="401.3" x2="347.5" y2="401.3" stroke="#000" stroke-width="1.2" stroke-linecap="butt"/>
<text x="341.0" y="404.54" font-size="9.0" font-weight="bold" text-anchor="end" fill="#000" >0.0</text>
<line x1="342.9" y1="376.88" x2="347.5" y2="376.88" stroke="#000" stroke-width="1.2" stroke-linecap="butt"/>
<text x="341.0" y="380.12" font-size="9.0" font-weight="bold" text-anchor="end" fill="#000" >0.5</text>
<line x1="342.9" y1="352.46000000000004" x2="347.5" y2="352.46000000000004" stroke="#000" stroke-width="1.2" stroke-linecap="butt"/>
<text x="341.0" y="355.70000000000005" font-size="9.0" font-weight="bold" text-anchor="end" fill="#000" >1.0</text>
<line x1="342.9" y1="328.04" x2="347.5" y2="328.04" stroke="#000" stroke-width="1.2" stroke-linecap="butt"/>
<text x="341.0" y="331.28000000000003" font-size="9.0" font-weight="bold" text-anchor="end" fill="#000" >1.5</text>
<line x1="342.9" y1="303.62" x2="347.5" y2="303.62" stroke="#000" stroke-width="1.2" stroke-linecap="butt"/>
<text x="341.0" y="306.86" font-size="9.0" font-weight="bold" text-anchor="end" fill="#000" >2.0</text>
<line x1="342.9" y1="279.2" x2="347.5" y2="279.2" stroke="#000" stroke-width="1.2" stroke-linecap="butt"/>
<text x="341.0" y="282.44" font-size="9.0" font-weight="bold" text-anchor="end" fill="#000" >2.5</text>
<rect x="361.20" y="349.70" width="25.30" height="51.60" fill="#fff" stroke="#000" stroke-width="1.15"/>
<line x1="374.2" y1="345.5" x2="374.2" y2="352.3" stroke="#000" stroke-width="0.7" stroke-linecap="butt"/>
<line x1="367.7" y1="345.5" x2="380.7" y2="345.5" stroke="#000" stroke-width="0.7" stroke-linecap="butt"/>
<line x1="367.7" y1="352.3" x2="380.7" y2="352.3" stroke="#000" stroke-width="0.7" stroke-linecap="butt"/>
<rect x="401.20" y="362.20" width="25.30" height="39.10" fill="#0000ee" stroke="#000" stroke-width="1.15"/>
<line x1="413.8" y1="358" x2="413.8" y2="364.8" stroke="#000" stroke-width="0.7" stroke-linecap="butt"/>
<line x1="407.5" y1="358" x2="420.1" y2="358" stroke="#000" stroke-width="0.7" stroke-linecap="butt"/>
<line x1="407.5" y1="364.8" x2="420.1" y2="364.8" stroke="#000" stroke-width="0.7" stroke-linecap="butt"/>
<circle cx="373.8" cy="328" r="1.45" fill="#000"/>
<circle cx="373.8" cy="338.8" r="1.45" fill="#000"/>
<circle cx="379" cy="338" r="1.45" fill="#000"/>
<circle cx="369" cy="344.3" r="1.45" fill="#000"/>
<circle cx="373.8" cy="345.5" r="1.45" fill="#000"/>
<circle cx="379" cy="343" r="1.45" fill="#000"/>
<circle cx="369" cy="351.8" r="1.45" fill="#000"/>
<circle cx="373.8" cy="356.8" r="1.45" fill="#000"/>
<circle cx="379" cy="355" r="1.45" fill="#000"/>
<circle cx="373.8" cy="360.5" r="1.45" fill="#000"/>
<circle cx="379" cy="360.5" r="1.45" fill="#000"/>
<circle cx="373.8" cy="368" r="1.45" fill="#000"/>
<rect x="410.20" y="342.50" width="2.6" height="2.6" fill="#000"/>
<rect x="415.00" y="341.20" width="2.6" height="2.6" fill="#000"/>
<rect x="415.00" y="354.70" width="2.6" height="2.6" fill="#000"/>
<rect x="410.70" y="358.00" width="2.6" height="2.6" fill="#000"/>
<rect x="413.20" y="362.20" width="2.6" height="2.6" fill="#000"/>
<rect x="413.20" y="366.70" width="2.6" height="2.6" fill="#000"/>
<rect x="413.20" y="370.50" width="2.6" height="2.6" fill="#000"/>
<rect x="410.20" y="376.20" width="2.6" height="2.6" fill="#000"/>
<rect x="415.00" y="375.50" width="2.6" height="2.6" fill="#000"/>
<path d="M373.8 320 V313.5 H414 V334.2" fill="none" stroke="#000" stroke-width="1"/>
<line x1="394.00" y1="302.60" x2="394.00" y2="308.60" stroke="#000" stroke-width="1.0"/>
<line x1="391.40" y1="304.10" x2="396.60" y2="307.10" stroke="#000" stroke-width="1.0"/>
<line x1="396.60" y1="304.10" x2="391.40" y2="307.10" stroke="#000" stroke-width="1.0"/>
<text x="373.8" y="416.8" font-size="8.55" font-weight="bold" text-anchor="middle" fill="#000" >Ctrl</text>
<text x="414" y="416.8" font-size="8.85" font-weight="bold" text-anchor="middle" fill="#000" >eNpHR3.0</text>
<text transform="translate(321.3 340) rotate(-90)" font-size="9.85" font-weight="bold" text-anchor="middle" fill="#000" stroke="#fff" stroke-width="0.16">Fluid intake (g)</text>
<line x1="473" y1="278.59999999999997" x2="473" y2="401.90000000000003" stroke="#000" stroke-width="1.2" stroke-linecap="butt"/>
<line x1="468.4" y1="401.3" x2="566.7" y2="401.3" stroke="#000" stroke-width="1.2" stroke-linecap="butt"/>
<line x1="468.4" y1="401.3" x2="473" y2="401.3" stroke="#000" stroke-width="1.2" stroke-linecap="butt"/>
<text x="466.5" y="404.54" font-size="9.0" font-weight="bold" text-anchor="end" fill="#000" >0.0</text>
<line x1="468.4" y1="376.88" x2="473" y2="376.88" stroke="#000" stroke-width="1.2" stroke-linecap="butt"/>
<text x="466.5" y="380.12" font-size="9.0" font-weight="bold" text-anchor="end" fill="#000" >0.5</text>
<line x1="468.4" y1="352.46000000000004" x2="473" y2="352.46000000000004" stroke="#000" stroke-width="1.2" stroke-linecap="butt"/>
<text x="466.5" y="355.70000000000005" font-size="9.0" font-weight="bold" text-anchor="end" fill="#000" >1.0</text>
<line x1="468.4" y1="328.04" x2="473" y2="328.04" stroke="#000" stroke-width="1.2" stroke-linecap="butt"/>
<text x="466.5" y="331.28000000000003" font-size="9.0" font-weight="bold" text-anchor="end" fill="#000" >1.5</text>
<line x1="468.4" y1="303.62" x2="473" y2="303.62" stroke="#000" stroke-width="1.2" stroke-linecap="butt"/>
<text x="466.5" y="306.86" font-size="9.0" font-weight="bold" text-anchor="end" fill="#000" >2.0</text>
<line x1="468.4" y1="279.2" x2="473" y2="279.2" stroke="#000" stroke-width="1.2" stroke-linecap="butt"/>
<text x="466.5" y="282.44" font-size="9.0" font-weight="bold" text-anchor="end" fill="#000" >2.5</text>
<rect x="487.00" y="353.50" width="25.00" height="47.80" fill="#fff" stroke="#000" stroke-width="1.15"/>
<line x1="499.5" y1="348.5" x2="499.5" y2="356.8" stroke="#000" stroke-width="0.7" stroke-linecap="butt"/>
<line x1="493.0" y1="348.5" x2="506.0" y2="348.5" stroke="#000" stroke-width="0.7" stroke-linecap="butt"/>
<line x1="493.0" y1="356.8" x2="506.0" y2="356.8" stroke="#000" stroke-width="0.7" stroke-linecap="butt"/>
<rect x="527.20" y="359.70" width="25.30" height="41.60" fill="#17985d" stroke="#000" stroke-width="1.15"/>
<line x1="539.8" y1="354.2" x2="539.8" y2="363.5" stroke="#000" stroke-width="0.7" stroke-linecap="butt"/>
<line x1="534.0999999999999" y1="354.2" x2="545.5" y2="354.2" stroke="#000" stroke-width="0.7" stroke-linecap="butt"/>
<line x1="534.0999999999999" y1="363.5" x2="545.5" y2="363.5" stroke="#000" stroke-width="0.7" stroke-linecap="butt"/>
<circle cx="499.5" cy="310" r="1.45" fill="#000"/>
<circle cx="499.5" cy="338.8" r="1.45" fill="#000"/>
<circle cx="499.5" cy="346.5" r="1.45" fill="#000"/>
<circle cx="496" cy="349.5" r="1.45" fill="#000"/>
<circle cx="503" cy="350" r="1.45" fill="#000"/>
<circle cx="494.5" cy="356" r="1.45" fill="#000"/>
<circle cx="499.5" cy="355.5" r="1.45" fill="#000"/>
<circle cx="504.5" cy="357" r="1.45" fill="#000"/>
<circle cx="497" cy="360.5" r="1.45" fill="#000"/>
<circle cx="502" cy="361" r="1.45" fill="#000"/>
<circle cx="506" cy="360" r="1.45" fill="#000"/>
<circle cx="497" cy="368.5" r="1.45" fill="#000"/>
<circle cx="502" cy="368" r="1.45" fill="#000"/>
<rect x="538.50" y="318.00" width="2.6" height="2.6" fill="#000"/>
<rect x="538.50" y="333.00" width="2.6" height="2.6" fill="#000"/>
<rect x="538.50" y="346.70" width="2.6" height="2.6" fill="#000"/>
<rect x="533.70" y="352.20" width="2.6" height="2.6" fill="#000"/>
<rect x="538.50" y="354.70" width="2.6" height="2.6" fill="#000"/>
<rect x="543.00" y="358.00" width="2.6" height="2.6" fill="#000"/>
<rect x="535.50" y="359.20" width="2.6" height="2.6" fill="#000"/>
<rect x="539.20" y="363.70" width="2.6" height="2.6" fill="#000"/>
<rect x="538.50" y="370.50" width="2.6" height="2.6" fill="#000"/>
<rect x="538.50" y="374.20" width="2.6" height="2.6" fill="#000"/>
<rect x="538.50" y="379.20" width="2.6" height="2.6" fill="#000"/>
<path d="M499.5 302 V295.2 H539.8 V311.8" fill="none" stroke="#000" stroke-width="1"/>
<text x="519.6" y="289.5" font-size="9" font-weight="normal" text-anchor="middle" fill="#000" >ns</text>
<text x="499.5" y="416.8" font-size="8.55" font-weight="bold" text-anchor="middle" fill="#000" >Ctrl</text>
<text x="539.8" y="416.8" font-size="8.85" font-weight="bold" text-anchor="middle" fill="#000" >eNpHR3.0</text>
<line x1="358.25" y1="457.19999999999993" x2="358.25" y2="580.9" stroke="#000" stroke-width="1.2" stroke-linecap="butt"/>
<line x1="353.65" y1="580.3" x2="440" y2="580.3" stroke="#000" stroke-width="1.2" stroke-linecap="butt"/>
<line x1="353.65" y1="580.3" x2="358.25" y2="580.3" stroke="#000" stroke-width="1.2" stroke-linecap="butt"/>
<text x="351.75" y="583.54" font-size="9.0" font-weight="bold" text-anchor="end" fill="#000" >0.0</text>
<line x1="353.65" y1="555.8" x2="358.25" y2="555.8" stroke="#000" stroke-width="1.2" stroke-linecap="butt"/>
<text x="351.75" y="559.04" font-size="9.0" font-weight="bold" text-anchor="end" fill="#000" >0.5</text>
<line x1="353.65" y1="531.3" x2="358.25" y2="531.3" stroke="#000" stroke-width="1.2" stroke-linecap="butt"/>
<text x="351.75" y="534.54" font-size="9.0" font-weight="bold" text-anchor="end" fill="#000" >1.0</text>
<line x1="353.65" y1="506.79999999999995" x2="358.25" y2="506.79999999999995" stroke="#000" stroke-width="1.2" stroke-linecap="butt"/>
<text x="351.75" y="510.03999999999996" font-size="9.0" font-weight="bold" text-anchor="end" fill="#000" >1.5</text>
<line x1="353.65" y1="482.29999999999995" x2="358.25" y2="482.29999999999995" stroke="#000" stroke-width="1.2" stroke-linecap="butt"/>
<text x="351.75" y="485.53999999999996" font-size="9.0" font-weight="bold" text-anchor="end" fill="#000" >2.0</text>
<line x1="353.65" y1="457.79999999999995" x2="358.25" y2="457.79999999999995" stroke="#000" stroke-width="1.2" stroke-linecap="butt"/>
<text x="351.75" y="461.03999999999996" font-size="9.0" font-weight="bold" text-anchor="end" fill="#000" >2.5</text>
<rect x="370.70" y="514.50" width="21.50" height="65.80" fill="#fff" stroke="#000" stroke-width="1.15"/>
<line x1="381.3" y1="506.2" x2="381.3" y2="521.5" stroke="#000" stroke-width="0.7" stroke-linecap="butt"/>
<line x1="375.8" y1="506.2" x2="386.8" y2="506.2" stroke="#000" stroke-width="0.7" stroke-linecap="butt"/>
<line x1="375.8" y1="521.5" x2="386.8" y2="521.5" stroke="#000" stroke-width="0.7" stroke-linecap="butt"/>
<rect x="406.20" y="550.50" width="21.50" height="29.80" fill="#4a9cf0" stroke="#000" stroke-width="1.15"/>
<line x1="417" y1="545.7" x2="417" y2="553.2" stroke="#000" stroke-width="0.7" stroke-linecap="butt"/>
<line x1="411.5" y1="545.7" x2="422.5" y2="545.7" stroke="#000" stroke-width="0.7" stroke-linecap="butt"/>
<line x1="411.5" y1="553.2" x2="422.5" y2="553.2" stroke="#000" stroke-width="0.7" stroke-linecap="butt"/>
<circle cx="381.3" cy="465" r="1.45" fill="#000"/>
<circle cx="381.3" cy="493.3" r="1.45" fill="#000"/>
<circle cx="381.3" cy="504" r="1.45" fill="#000"/>
<circle cx="381.3" cy="517.8" r="1.45" fill="#000"/>
<circle cx="378.3" cy="522" r="1.45" fill="#000"/>
<circle cx="384" cy="524" r="1.45" fill="#000"/>
<circle cx="381.3" cy="527.5" r="1.45" fill="#000"/>
<circle cx="381.3" cy="533.3" r="1.45" fill="#000"/>
<circle cx="381.3" cy="537" r="1.45" fill="#000"/>
<rect x="415.50" y="530.20" width="2.6" height="2.6" fill="#000"/>
<rect x="413.20" y="536.20" width="2.6" height="2.6" fill="#000"/>
<rect x="417.70" y="537.70" width="2.6" height="2.6" fill="#000"/>
<rect x="415.50" y="543.20" width="2.6" height="2.6" fill="#000"/>
<rect x="413.20" y="547.00" width="2.6" height="2.6" fill="#000"/>
<rect x="417.70" y="547.00" width="2.6" height="2.6" fill="#000"/>
<rect x="415.50" y="550.70" width="2.6" height="2.6" fill="#000"/>
<rect x="413.20" y="559.50" width="2.6" height="2.6" fill="#000"/>
<rect x="417.70" y="559.50" width="2.6" height="2.6" fill="#000"/>
<rect x="413.20" y="562.50" width="2.6" height="2.6" fill="#000"/>
<rect x="417.70" y="562.50" width="2.6" height="2.6" fill="#000"/>
<path d="M381.3 457 V450.2 H416.8 V523.2" fill="none" stroke="#000" stroke-width="1"/>
<line x1="391.80" y1="439.30" x2="391.80" y2="445.30" stroke="#000" stroke-width="1.0"/>
<line x1="389.20" y1="440.80" x2="394.40" y2="443.80" stroke="#000" stroke-width="1.0"/>
<line x1="394.40" y1="440.80" x2="389.20" y2="443.80" stroke="#000" stroke-width="1.0"/>
<line x1="399.60" y1="439.30" x2="399.60" y2="445.30" stroke="#000" stroke-width="1.0"/>
<line x1="397.00" y1="440.80" x2="402.20" y2="443.80" stroke="#000" stroke-width="1.0"/>
<line x1="402.20" y1="440.80" x2="397.00" y2="443.80" stroke="#000" stroke-width="1.0"/>
<line x1="407.40" y1="439.30" x2="407.40" y2="445.30" stroke="#000" stroke-width="1.0"/>
<line x1="404.80" y1="440.80" x2="410.00" y2="443.80" stroke="#000" stroke-width="1.0"/>
<line x1="410.00" y1="440.80" x2="404.80" y2="443.80" stroke="#000" stroke-width="1.0"/>
<text x="381.3" y="594.5" font-size="8.55" font-weight="bold" text-anchor="middle" fill="#000" >Ctrl</text>
<text x="416.8" y="594.5" font-size="8.55" font-weight="bold" text-anchor="middle" fill="#000" >IC++</text>
<text transform="translate(332.4 519.3) rotate(-90)" font-size="9.85" font-weight="bold" text-anchor="middle" fill="#000" stroke="#fff" stroke-width="0.16">Fluid intake (g)</text>
<line x1="474.5" y1="457.69999999999993" x2="474.5" y2="580.9" stroke="#000" stroke-width="1.2" stroke-linecap="butt"/>
<line x1="469.9" y1="580.3" x2="556.7" y2="580.3" stroke="#000" stroke-width="1.2" stroke-linecap="butt"/>
<line x1="469.9" y1="580.3" x2="474.5" y2="580.3" stroke="#000" stroke-width="1.2" stroke-linecap="butt"/>
<text x="468.0" y="583.54" font-size="9.0" font-weight="bold" text-anchor="end" fill="#000" >0.0</text>
<line x1="469.9" y1="555.9" x2="474.5" y2="555.9" stroke="#000" stroke-width="1.2" stroke-linecap="butt"/>
<text x="468.0" y="559.14" font-size="9.0" font-weight="bold" text-anchor="end" fill="#000" >0.5</text>
<line x1="469.9" y1="531.5" x2="474.5" y2="531.5" stroke="#000" stroke-width="1.2" stroke-linecap="butt"/>
<text x="468.0" y="534.74" font-size="9.0" font-weight="bold" text-anchor="end" fill="#000" >1.0</text>
<line x1="469.9" y1="507.09999999999997" x2="474.5" y2="507.09999999999997" stroke="#000" stroke-width="1.2" stroke-linecap="butt"/>
<text x="468.0" y="510.34" font-size="9.0" font-weight="bold" text-anchor="end" fill="#000" >1.5</text>
<line x1="469.9" y1="482.69999999999993" x2="474.5" y2="482.69999999999993" stroke="#000" stroke-width="1.2" stroke-linecap="butt"/>
<text x="468.0" y="485.93999999999994" font-size="9.0" font-weight="bold" text-anchor="end" fill="#000" >2.0</text>
<line x1="469.9" y1="458.29999999999995" x2="474.5" y2="458.29999999999995" stroke="#000" stroke-width="1.2" stroke-linecap="butt"/>
<text x="468.0" y="461.53999999999996" font-size="9.0" font-weight="bold" text-anchor="end" fill="#000" >2.5</text>
<rect x="487.50" y="526.30" width="21.00" height="54.00" fill="#fff" stroke="#000" stroke-width="1.15"/>
<line x1="498.2" y1="516.2" x2="498.2" y2="533.2" stroke="#000" stroke-width="0.7" stroke-linecap="butt"/>
<line x1="492.7" y1="516.2" x2="503.7" y2="516.2" stroke="#000" stroke-width="0.7" stroke-linecap="butt"/>
<line x1="492.7" y1="533.2" x2="503.7" y2="533.2" stroke="#000" stroke-width="0.7" stroke-linecap="butt"/>
<rect x="522.20" y="533.70" width="21.00" height="46.60" fill="#43ecab" stroke="#000" stroke-width="1.15"/>
<line x1="533" y1="525.8" x2="533" y2="539.5" stroke="#000" stroke-width="0.7" stroke-linecap="butt"/>
<line x1="527.5" y1="525.8" x2="538.5" y2="525.8" stroke="#000" stroke-width="0.7" stroke-linecap="butt"/>
<line x1="527.5" y1="539.5" x2="538.5" y2="539.5" stroke="#000" stroke-width="0.7" stroke-linecap="butt"/>
<circle cx="498.3" cy="463.3" r="1.45" fill="#000"/>
<circle cx="498.3" cy="508.3" r="1.45" fill="#000"/>
<circle cx="498.3" cy="515" r="1.45" fill="#000"/>
<circle cx="498.3" cy="520.8" r="1.45" fill="#000"/>
<circle cx="498.3" cy="527" r="1.45" fill="#000"/>
<circle cx="498.3" cy="541.5" r="1.45" fill="#000"/>
<circle cx="493.3" cy="551.3" r="1.45" fill="#000"/>
<circle cx="498.3" cy="550" r="1.45" fill="#000"/>
<circle cx="503.3" cy="550" r="1.45" fill="#000"/>
<rect x="531.70" y="506.50" width="2.6" height="2.6" fill="#000"/>
<rect x="531.70" y="520.00" width="2.6" height="2.6" fill="#000"/>
<rect x="531.70" y="526.20" width="2.6" height="2.6" fill="#000"/>
<rect x="531.70" y="534.50" width="2.6" height="2.6" fill="#000"/>
<rect x="531.70" y="545.20" width="2.6" height="2.6" fill="#000"/>
<rect x="531.70" y="554.50" width="2.6" height="2.6" fill="#000"/>
<path d="M498.3 454.5 V448.2 H533 V500" fill="none" stroke="#000" stroke-width="1"/>
<text x="515.6" y="442.1" font-size="9" font-weight="normal" text-anchor="middle" fill="#000" >ns</text>
<text x="498.3" y="594.5" font-size="8.55" font-weight="bold" text-anchor="middle" fill="#000" >Ctrl</text>
<text x="533" y="594.5" font-size="8.55" font-weight="bold" text-anchor="middle" fill="#000" >IC++</text>
<rect x="596.2" y="297.2" width="19.3" height="10.3" fill="#0000f5" stroke="#000" stroke-width="1.2"/>
<rect x="596.2" y="312.3" width="19.3" height="9.5" fill="#0a90fa" stroke="#000" stroke-width="1.2"/>
<rect x="596.2" y="325.6" width="19.3" height="9.9" fill="#00fbff" stroke="#000" stroke-width="1.2"/>
<rect x="596.2" y="350.6" width="19.3" height="9.4" fill="#007600" stroke="#000" stroke-width="1.2"/>
<rect x="596.2" y="364.3" width="19.3" height="9.2" fill="#00fa9a" stroke="#000" stroke-width="1.2"/>
<rect x="596.2" y="378.6" width="19.3" height="9.4" fill="#ccffcc" stroke="#000" stroke-width="1.2"/>
<text x="620.5" y="321" font-size="11.2" font-weight="bold" text-anchor="start" fill="#000" >Htr2a</text>
<text x="622.2" y="372.2" font-size="11.7" font-weight="bold" text-anchor="start" fill="#000" >Sst</text>
<g transform="translate(0 0)">
<rect x="172.3" y="312.5" width="25.7" height="93.7" fill="#fff" stroke="#333" stroke-width="0.7"/>
<line x1="73.7" y1="406.3" x2="198" y2="406.3" stroke="#222" stroke-width="0.7" stroke-linecap="butt"/>
<path d="M191.3 335.3 L197.4 342.6 L153.2 374.6 L147.4 366.8 Z" fill="#fde7b8" stroke="#333" stroke-width="0.6"/>
<path d="M148.4 370.6 L152 375.3 L146.4 377 L143.5 373.9 Z" fill="#8a8a8a" stroke="#444" stroke-width="0.4"/>
<path d="M90.8 340.5 C97 340.5 101 344 103 351 C104.5 357 103.5 363 107.5 369 C110 372.5 113 374.5 116 376" fill="none" stroke="#222" stroke-width="0.7"/>
<path d="M102 401.5 C96 404 89 406.5 86.5 404.5 C82.5 401 84 392 80 384 C77.5 379.5 73.5 377 69.5 376.2" fill="none" stroke="#333" stroke-width="0.6"/>
<ellipse cx="119.3" cy="373" rx="3.6" ry="3.9" fill="#b3b3b3" stroke="#222" stroke-width="0.75"/>
<path d="M136.4 375.6 C133 373.6 125 374 117 377.5 C107 382 100 390 100.3 397.5 C100.6 403.5 107 405.8 115 404.8 C124 403.6 132 398 135 390 C137 384.5 137.5 379 136.4 375.6 Z" fill="#b3b3b3" stroke="#222" stroke-width="0.75"/>
<circle cx="128.8" cy="377.6" r="1.1" fill="#000"/>
<line x1="136" y1="375.8" x2="131.3" y2="366" stroke="#111" stroke-width="0.6" stroke-linecap="butt"/>
<line x1="136" y1="375.8" x2="134.8" y2="364.8" stroke="#111" stroke-width="0.6" stroke-linecap="butt"/>
<line x1="136" y1="375.8" x2="137.6" y2="364.8" stroke="#111" stroke-width="0.6" stroke-linecap="butt"/>
<line x1="136" y1="375.8" x2="128.5" y2="383" stroke="#111" stroke-width="0.6" stroke-linecap="butt"/>
<line x1="136" y1="375.8" x2="131.5" y2="384.5" stroke="#111" stroke-width="0.6" stroke-linecap="butt"/>
<line x1="136" y1="375.8" x2="136.3" y2="387" stroke="#111" stroke-width="0.6" stroke-linecap="butt"/>
<circle cx="136.3" cy="375.5" r="1.2" fill="#f0141e"/>
<rect x="71.4" y="335.5" width="19.4" height="10.1" fill="#fdebd0" stroke="#f0a03c" stroke-width="1.0"/>
<line x1="78.2" y1="340.6" x2="83.10000000000001" y2="340.6" stroke="#f0a03c" stroke-width="0.9" stroke-linecap="butt"/>
<line x1="78.2" y1="340.6" x2="73.3" y2="340.6" stroke="#f0a03c" stroke-width="0.9" stroke-linecap="butt"/>
<line x1="78.2" y1="340.6" x2="78.2" y2="345.0" stroke="#f0a03c" stroke-width="0.9" stroke-linecap="butt"/>
<line x1="78.2" y1="340.6" x2="78.2" y2="336.20000000000005" stroke="#f0a03c" stroke-width="0.9" stroke-linecap="butt"/>
<line x1="78.2" y1="340.6" x2="81.5" y2="343.90000000000003" stroke="#f0a03c" stroke-width="0.9" stroke-linecap="butt"/>
<line x1="78.2" y1="340.6" x2="74.9" y2="343.90000000000003" stroke="#f0a03c" stroke-width="0.9" stroke-linecap="butt"/>
<line x1="78.2" y1="340.6" x2="81.5" y2="337.3" stroke="#f0a03c" stroke-width="0.9" stroke-linecap="butt"/>
<line x1="78.2" y1="340.6" x2="74.9" y2="337.3" stroke="#f0a03c" stroke-width="0.9" stroke-linecap="butt"/>
<line x1="78.2" y1="340.6" x2="88.6" y2="340.6" stroke="#f0a03c" stroke-width="0.9" stroke-linecap="butt"/>
<circle cx="78.2" cy="340.6" r="1.55" fill="#fff" stroke="#f0a03c" stroke-width="1.5"/>
<text x="65.7" y="329" font-size="7.8" font-weight="bold" text-anchor="start" fill="#000" >eNpHR3.0</text>
<text x="67.5" y="356" font-size="7.8" font-weight="bold" text-anchor="start" fill="#000" >561 nm</text>
</g>
<g transform="translate(0 176)">
<rect x="172.3" y="312.5" width="25.7" height="93.7" fill="#fff" stroke="#333" stroke-width="0.7"/>
<line x1="73.7" y1="406.3" x2="198" y2="406.3" stroke="#222" stroke-width="0.7" stroke-linecap="butt"/>
<path d="M191.3 335.3 L197.4 342.6 L153.2 374.6 L147.4 366.8 Z" fill="#fde7b8" stroke="#333" stroke-width="0.6"/>
<path d="M148.4 370.6 L152 375.3 L146.4 377 L143.5 373.9 Z" fill="#8a8a8a" stroke="#444" stroke-width="0.4"/>
<path d="M90.8 340.5 C97 340.5 101 344 103 351 C104.5 357 103.5 363 107.5 369 C110 372.5 113 374.5 116 376" fill="none" stroke="#222" stroke-width="0.7"/>
<path d="M102 401.5 C96 404 89 406.5 86.5 404.5 C82.5 401 84 392 80 384 C77.5 379.5 73.5 377 69.5 376.2" fill="none" stroke="#333" stroke-width="0.6"/>
<ellipse cx="119.3" cy="373" rx="3.6" ry="3.9" fill="#b3b3b3" stroke="#222" stroke-width="0.75"/>
<path d="M136.4 375.6 C133 373.6 125 374 117 377.5 C107 382 100 390 100.3 397.5 C100.6 403.5 107 405.8 115 404.8 C124 403.6 132 398 135 390 C137 384.5 137.5 379 136.4 375.6 Z" fill="#b3b3b3" stroke="#222" stroke-width="0.75"/>
<circle cx="128.8" cy="377.6" r="1.1" fill="#000"/>
<line x1="136" y1="375.8" x2="131.3" y2="366" stroke="#111" stroke-width="0.6" stroke-linecap="butt"/>
<line x1="136" y1="375.8" x2="134.8" y2="364.8" stroke="#111" stroke-width="0.6" stroke-linecap="butt"/>
<line x1="136" y1="375.8" x2="137.6" y2="364.8" stroke="#111" stroke-width="0.6" stroke-linecap="butt"/>
<line x1="136" y1="375.8" x2="128.5" y2="383" stroke="#111" stroke-width="0.6" stroke-linecap="butt"/>
<line x1="136" y1="375.8" x2="131.5" y2="384.5" stroke="#111" stroke-width="0.6" stroke-linecap="butt"/>
<line x1="136" y1="375.8" x2="136.3" y2="387" stroke="#111" stroke-width="0.6" stroke-linecap="butt"/>
<circle cx="136.3" cy="375.5" r="1.2" fill="#f0141e"/>
<rect x="71.4" y="335.5" width="19.4" height="10.1" fill="#e2e3f8" stroke="#4450b4" stroke-width="1.0"/>
<line x1="78.2" y1="340.6" x2="83.10000000000001" y2="340.6" stroke="#4450b4" stroke-width="0.9" stroke-linecap="butt"/>
<line x1="78.2" y1="340.6" x2="73.3" y2="340.6" stroke="#4450b4" stroke-width="0.9" stroke-linecap="butt"/>
<line x1="78.2" y1="340.6" x2="78.2" y2="345.0" stroke="#4450b4" stroke-width="0.9" stroke-linecap="butt"/>
<line x1="78.2" y1="340.6" x2="78.2" y2="336.20000000000005" stroke="#4450b4" stroke-width="0.9" stroke-linecap="butt"/>
<line x1="78.2" y1="340.6" x2="81.5" y2="343.90000000000003" stroke="#4450b4" stroke-width="0.9" stroke-linecap="butt"/>
<line x1="78.2" y1="340.6" x2="74.9" y2="343.90000000000003" stroke="#4450b4" stroke-width="0.9" stroke-linecap="butt"/>
<line x1="78.2" y1="340.6" x2="81.5" y2="337.3" stroke="#4450b4" stroke-width="0.9" stroke-linecap="butt"/>
<line x1="78.2" y1="340.6" x2="74.9" y2="337.3" stroke="#4450b4" stroke-width="0.9" stroke-linecap="butt"/>
<line x1="78.2" y1="340.6" x2="88.6" y2="340.6" stroke="#4450b4" stroke-width="0.9" stroke-linecap="butt"/>
<circle cx="78.2" cy="340.6" r="1.55" fill="#fff" stroke="#4450b4" stroke-width="1.5"/>
<text x="68" y="327.8" font-size="8.3" font-weight="bold" text-anchor="start" fill="#000" >IC++</text>
<text x="61.8" y="356" font-size="7.8" font-weight="bold" text-anchor="start" fill="#000" >473 nm</text>
</g>
</svg></body></html>
